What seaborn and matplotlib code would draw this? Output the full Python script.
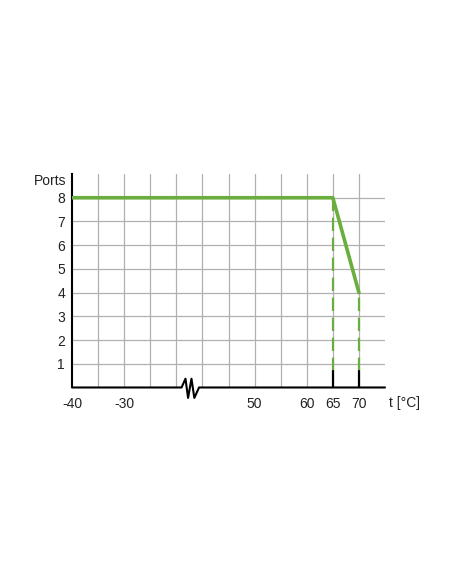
import matplotlib.pyplot as plt
import seaborn as sns
import pandas as pd

# derating curve: number of ports vs ambient temperature
temps = [-40, 65, 70]
ports = [8, 8, 4]

# x axis is broken between -20 and 40, 5 degC per grid column
tick_temps = [-40, -30, 50, 60, 65, 70]
grid_temps = [-35, -30, -25, -20, 40, 45, 50, 55, 60, 65, 70]
y_ticks = [1, 2, 3, 4, 5, 6, 7, 8]

GREEN = "#6aaf3d"


def pos(t):
    # map temperature to column position on the broken axis
    if t <= -20:
        return (t + 40) / 5
    return (t - 40) / 5 + 5


sns.set_style("white")
plt.rcParams["font.family"] = ["Liberation Sans", "DejaVu Sans"]

fig = plt.figure(figsize=(4.52, 5.84), dpi=100)
ax = fig.add_axes([0.1593, 0.3365, 0.6925, 0.3655])

df = pd.DataFrame({"x": [pos(t) for t in temps], "ports": ports})

# grid
for t in grid_temps:
    ax.axvline(pos(t), color="#b0b0b0", lw=0.9, zorder=1)
for y in y_ticks:
    ax.axhline(y, color="#b0b0b0", lw=0.9, zorder=1)

# dashed drops at 65 and 70
for t, p in zip(temps[1:], ports[1:]):
    ax.plot([pos(t), pos(t)], [0.68, p], color=GREEN, lw=1.6,
            dashes=(6, 3), zorder=2)
    ax.plot([pos(t), pos(t)], [0, 0.68], color="black", lw=1.6, zorder=3)

sns.lineplot(data=df, x="x", y="ports", color=GREEN, lw=2.6, ax=ax,
             zorder=4)

# bottom axis with break symbol
zx = [0, 4.2, 4.35, 4.45, 4.58, 4.69, 4.87, 12]
zy = [0, 0, 0.37, -0.44, 0.37, -0.44, 0, 0]
ax.plot(zx, zy, color="black", lw=1.5, clip_on=False, zorder=5)

ax.set_xlim(0, 12)
ax.set_ylim(0, 9)
ax.set_xticks([pos(t) for t in tick_temps])
ax.set_xticklabels([str(t) for t in tick_temps])
ax.set_yticks(y_ticks)
ax.set_yticklabels([str(y) for y in y_ticks])
ax.tick_params(axis="x", length=0, pad=7, labelsize=10, labelcolor="#222222")
ax.tick_params(axis="y", length=0, pad=5, labelsize=10, labelcolor="#222222")
ax.set_xlabel("")
ax.set_ylabel("")

for s in ["top", "right", "bottom"]:
    ax.spines[s].set_visible(False)
ax.spines["left"].set_color("black")
ax.spines["left"].set_linewidth(1.5)

ax.text(-0.23, 8.72, "Ports", ha="right", va="center", fontsize=10,
        color="#222222")
ax.text(12.15, -0.65, "t [°C]", ha="left", va="center", fontsize=10,
        color="#222222", clip_on=False)

fig.savefig("out.png", dpi=100, facecolor="white")
